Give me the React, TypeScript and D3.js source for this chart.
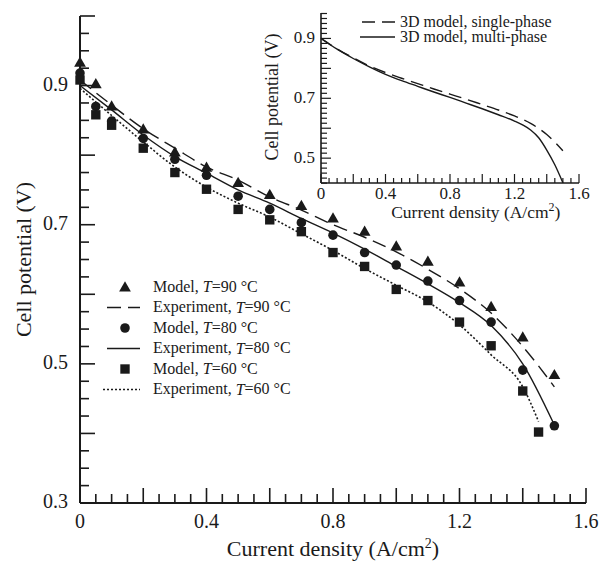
import React from 'react';
import * as d3 from 'd3';

// ---- main chart data: model (markers) and experiment (lines) ----
const modelCurrent = [0, 0.05, 0.1, 0.2, 0.3, 0.4, 0.5, 0.6, 0.7, 0.8, 0.9, 1.0, 1.1, 1.2, 1.3, 1.4, 1.5];
const model90 = [0.932, 0.901, 0.869, 0.836, 0.803, 0.781, 0.759, 0.742, 0.726, 0.708, 0.689, 0.668, 0.646, 0.616, 0.581, 0.537, 0.483];
const model80 = [0.918, 0.870, 0.849, 0.824, 0.794, 0.771, 0.741, 0.722, 0.703, 0.685, 0.660, 0.642, 0.619, 0.591, 0.560, 0.491, 0.411];
const modelCurrent60 = [0, 0.05, 0.1, 0.2, 0.3, 0.4, 0.5, 0.6, 0.7, 0.8, 0.9, 1.0, 1.1, 1.2, 1.3, 1.4, 1.45];
const model60 = [0.908, 0.858, 0.843, 0.810, 0.775, 0.751, 0.722, 0.707, 0.690, 0.660, 0.640, 0.607, 0.591, 0.560, 0.526, 0.461, 0.402];

const expCurrent = [0, 0.1, 0.2, 0.3, 0.4, 0.5, 0.6, 0.7, 0.8, 0.9, 1.0, 1.1, 1.2, 1.3, 1.4, 1.5];
const exp90 = [0.908, 0.872, 0.838, 0.810, 0.783, 0.764, 0.740, 0.721, 0.700, 0.682, 0.661, 0.636, 0.608, 0.573, 0.525, 0.467];
const exp80 = [0.900, 0.865, 0.829, 0.798, 0.774, 0.750, 0.731, 0.709, 0.688, 0.665, 0.640, 0.615, 0.588, 0.555, 0.500, 0.412];
const expCurrent60 = [0, 0.1, 0.2, 0.3, 0.4, 0.5, 0.6, 0.7, 0.8, 0.9, 1.0, 1.1, 1.2, 1.3, 1.4, 1.45];
const exp60 = [0.896, 0.857, 0.819, 0.783, 0.754, 0.731, 0.711, 0.687, 0.663, 0.637, 0.613, 0.589, 0.556, 0.513, 0.467, 0.417];

// ---- inset data: 3D model curves ----
const singleCurrent = [0, 0.1, 0.2, 0.3, 0.4, 0.5, 0.6, 0.7, 0.8, 0.9, 1.0, 1.1, 1.2, 1.3, 1.4, 1.5];
const singlePhase = [0.900, 0.865, 0.835, 0.808, 0.786, 0.767, 0.749, 0.731, 0.714, 0.697, 0.679, 0.661, 0.641, 0.616, 0.579, 0.525];
const multiCurrent = [0, 0.1, 0.2, 0.3, 0.4, 0.5, 0.6, 0.7, 0.8, 0.9, 1.0, 1.1, 1.2, 1.25, 1.3, 1.35, 1.4, 1.45, 1.5];
const multiPhase = [0.900, 0.864, 0.833, 0.805, 0.780, 0.759, 0.740, 0.721, 0.703, 0.684, 0.665, 0.645, 0.624, 0.611, 0.594, 0.568, 0.527, 0.478, 0.418];

// ---- tick labels ----
const mainXLabels = [0, 0.4, 0.8, 1.2, 1.6];
const mainYLabels = [0.3, 0.5, 0.7, 0.9];
const insetXLabels = [0, 0.4, 0.8, 1.2, 1.6];
const insetYLabels = [0.5, 0.7, 0.9];

const legendRows = [
  { label: 'Model, ', temp: '90', kind: 'triangle' },
  { label: 'Experiment, ', temp: '90', kind: 'dashed' },
  { label: 'Model, ', temp: '80', kind: 'circle' },
  { label: 'Experiment, ', temp: '80', kind: 'solid' },
  { label: 'Model, ', temp: '60', kind: 'square' },
  { label: 'Experiment, ', temp: '60', kind: 'dotted' },
];

const font = '"Liberation Serif", "Times New Roman", serif';
const ink = '#1a1a1a';

const x = d3.scaleLinear().domain([0, 1.6]).range([80, 586]);
const y = d3.scaleLinear().domain([0.3, 1.0]).range([503, 16]);
const ix = d3.scaleLinear().domain([0, 1.6]).range([321, 579]);
const iy = d3.scaleLinear().domain([0.417, 0.985]).range([183, 13]);

const zip = (xs: number[], ys: number[]) => xs.map((v, i) => [v, ys[i]] as [number, number]);

const mainLine = d3.line<[number, number]>().x(d => x(d[0])).y(d => y(d[1])).curve(d3.curveMonotoneX);
const insetLine = d3.line<[number, number]>().x(d => ix(d[0])).y(d => iy(d[1])).curve(d3.curveMonotoneX);

const triangle = d3.symbol(d3.symbolTriangle, 60)();
const circle = d3.symbol(d3.symbolCircle, 72)();
const square = d3.symbol(d3.symbolSquare, 88)();

const dashStyle: Record<string, any> = {
  dashed: { strokeDasharray: '14,7' },
  solid: {},
  dotted: { strokeDasharray: '2,2' },
};

const App = () => {
  const mainXTicks = d3.range(0, 33).map(i => i * 0.05);
  const mainYTicks = d3.range(0, 29).map(i => 0.3 + i * 0.025);
  const insetXTicks = d3.range(0, 33).map(i => i * 0.05);
  const insetYTicks = d3.range(-5, 30).map(k => 0.5 + k / 60);

  const markers = (xs: number[], ys: number[], path: string | null) =>
    xs.map((v, i) => (
      <path key={i} d={path || ''} transform={`translate(${x(v)},${y(ys[i])})`} fill={ink} />
    ));

  return (
    <div style={{ position: 'absolute', left: 0, top: 0 }}>
      <svg width={601} height={565} fontFamily={font} style={{ display: 'block', background: '#fff' }}>
        {/* main axes */}
        <g stroke={ink}>
          <line x1={x(0)} x2={x(0)} y1={y(0.3)} y2={y(1.0)} strokeWidth={2} />
          <line x1={x(0)} x2={x(1.6)} y1={y(0.3)} y2={y(0.3)} strokeWidth={2} />
          {mainYTicks.map((t, i) => (
            <line key={'yt' + i} x1={x(0)} x2={x(0) + (i % 4 === 0 ? 15 : 9)} y1={y(t)} y2={y(t)} strokeWidth={1.6} />
          ))}
          {mainXTicks.map((t, i) => (
            <line key={'xt' + i} x1={x(t)} x2={x(t)} y1={y(0.3)} y2={y(0.3) - (i % 4 === 0 ? 15 : 9)} strokeWidth={1.6} />
          ))}
        </g>
        <g fontSize={20} fill={ink}>
          {mainYLabels.map(v => (
            <text key={v} x={x(0) - 12} y={y(v) - 2} textAnchor="end" dominantBaseline="central">{v}</text>
          ))}
          {mainXLabels.map(v => (
            <text key={v} x={x(v)} y={528} textAnchor="middle">{v}</text>
          ))}
        </g>
        <text x={x(0.8)} y={556} textAnchor="middle" fontSize={22} fill={ink}>
          Current density (A/cm<tspan dy={-8} fontSize={14}>2</tspan><tspan dy={8}>)</tspan>
        </text>
        <text transform={`translate(23,${(y(0.3) + y(1.0)) / 2}) rotate(-90)`} textAnchor="middle"
          dominantBaseline="central" fontSize={22} fill={ink}>Cell potential (V)</text>

        {/* experiment curves */}
        <g fill="none" stroke={ink} strokeWidth={1.4}>
          <path d={mainLine(zip(expCurrent, exp90)) || ''} strokeDasharray="14,7" />
          <path d={mainLine(zip(expCurrent, exp80)) || ''} />
          <path d={mainLine(zip(expCurrent60, exp60)) || ''} strokeDasharray="2,2" strokeWidth={1.6} />
        </g>
        {/* model markers */}
        <g>
          {markers(modelCurrent, model90, triangle)}
          {markers(modelCurrent, model80, circle)}
          {markers(modelCurrent60, model60, square)}
        </g>

        {/* legend */}
        <g fontSize={16} fill={ink}>
          {legendRows.map((r, i) => {
            const ry = 286 + i * 20.5;
            let sym;
            if (r.kind === 'triangle') sym = <path d={triangle || ''} transform={`translate(125,${ry + 2})`} fill={ink} />;
            else if (r.kind === 'circle') sym = <path d={circle || ''} transform={`translate(125,${ry + 1})`} fill={ink} />;
            else if (r.kind === 'square') sym = <path d={square || ''} transform={`translate(125,${ry + 1})`} fill={ink} />;
            else sym = <line x1={r.kind === 'dotted' ? 103 : 107} x2={140} y1={ry + 1} y2={ry + 1} stroke={ink}
              strokeWidth={r.kind === 'dotted' ? 1.6 : 1.4} {...dashStyle[r.kind]} />;
            return (
              <g key={i}>
                {sym}
                <text x={153} y={ry} dominantBaseline="central">
                  {r.label}<tspan fontStyle="italic">T</tspan>={r.temp} °C
                </text>
              </g>
            );
          })}
        </g>

        {/* inset */}
        <g stroke={ink}>
          <line x1={ix(0)} x2={ix(0)} y1={iy(0.417)} y2={iy(0.985)} strokeWidth={1.6} />
          <line x1={ix(0)} x2={ix(1.6)} y1={iy(0.417)} y2={iy(0.417)} strokeWidth={1.6} />
          {insetYTicks.map((t, i) => (
            <line key={'iyt' + i} x1={ix(0)} x2={ix(0) + (i % 6 === 5 ? 10 : 6)} y1={iy(t)} y2={iy(t)} strokeWidth={1.2} />
          ))}
          {insetXTicks.map((t, i) => (
            <line key={'ixt' + i} x1={ix(t)} x2={ix(t)} y1={iy(0.417)} y2={iy(0.417) - (i % 4 === 0 ? 9 : 5)} strokeWidth={1.2} />
          ))}
        </g>
        <g fontSize={17} fill={ink}>
          {insetYLabels.map(v => (
            <text key={v} x={ix(0) - 6} y={iy(v) - 1} textAnchor="end" dominantBaseline="central">{v}</text>
          ))}
          {insetXLabels.map(v => (
            <text key={v} x={ix(v)} y={199} textAnchor="middle">{v}</text>
          ))}
        </g>
        <text x={ix(0.96)} y={218} textAnchor="middle" fontSize={17.5} fill={ink}>
          Current density (A/cm<tspan dy={-7} fontSize={12}>2</tspan><tspan dy={7}>)</tspan>
        </text>
        <text transform={`translate(272,97) rotate(-90)`} textAnchor="middle" dominantBaseline="central"
          fontSize={18} fill={ink}>Cell potential (V)</text>
        <g fill="none" stroke={ink} strokeWidth={1.4}>
          <path d={insetLine(zip(singleCurrent, singlePhase)) || ''} strokeDasharray="13,7" />
          <path d={insetLine(zip(multiCurrent, multiPhase)) || ''} />
        </g>
        <g fontSize={16} fill={ink}>
          <line x1={362} x2={395} y1={22} y2={22} stroke={ink} strokeWidth={1.4} strokeDasharray="13,7" />
          <text x={400} y={21} dominantBaseline="central">3D model, single-phase</text>
          <line x1={360} x2={395} y1={37} y2={37} stroke={ink} strokeWidth={1.4} />
          <text x={400} y={36.5} dominantBaseline="central">3D model, multi-phase</text>
        </g>
      </svg>
    </div>
  );
};

export default App;
